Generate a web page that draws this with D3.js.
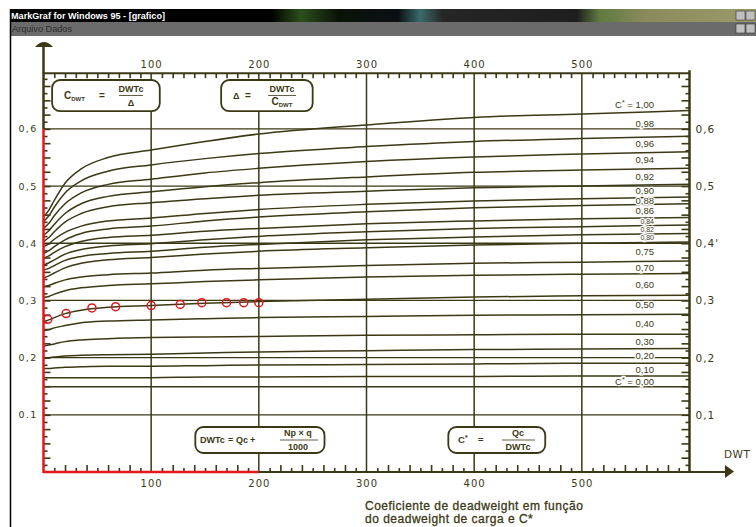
<!DOCTYPE html>
<html>
<head>
<meta charset="utf-8">
<script src="https://cdn.jsdelivr.net/npm/d3@7"></script>
<style>
body { margin: 0; background: #fff; }
svg { display: block; font-family: "Liberation Sans", Arial, sans-serif; }
</style>
</head>
<body>
<script>
var width = 756, height = 527;
var ink = "#3b3915", red = "#e3171c";

// DWT sample points (x axis)
var dwt  = [0, 5, 10, 20, 35, 60, 100, 150, 200, 300, 400, 500, 600];
// C_DWT for each C* curve
var c100 = [.446, .458, .475, .505, .530, .550, .563, .578, .591, .607, .620, .626, .632];
var c098 = [.438, .448, .463, .488, .509, .526, .537, .548, .557, .569, .578, .583, .587];
var c096 = [.426, .435, .448, .469, .488, .503, .512, .523, .531, .543, .551, .556, .560];
var c094 = [.414, .422, .433, .452, .469, .482, .490, .499, .506, .516, .524, .528, .531];
var c092 = [.403, .410, .420, .437, .452, .464, .471, .478, .484, .491, .497, .500, .503];
var c090 = [.394, .399, .407, .419, .430, .439, .444, .452, .459, .468, .474, .478, .481];
var c088 = [.382, .387, .394, .406, .417, .425, .430, .439, .446, .455, .462, .466, .469];
var c086 = [.374, .378, .384, .394, .403, .410, .414, .421, .426, .434, .439, .443, .445];
var c084 = [.362, .366, .371, .381, .389, .395, .399, .406, .412, .420, .426, .429, .432];
var c082 = [.353, .356, .361, .370, .377, .382, .386, .393, .398, .406, .411, .415, .417];
var c080 = [.339, .343, .348, .357, .365, .371, .375, .381, .386, .392, .397, .400, .402];
var c075 = [.324, .326, .330, .336, .341, .345, .348, .353, .356, .361, .365, .367, .369];
var c070 = [.305, .307, .311, .317, .322, .326, .329, .333, .336, .341, .344, .346, .347];
var c060 = [.263, .266, .270, .277, .283, .288, .291, .295, .298, .302, .306, .308, .309];
var c050 = [.247, .249, .252, .256, .261, .264, .266, .268, .270, .272, .274, .275, .276];
var c040 = [.220, .222, .224, .228, .231, .233, .235, .236, .237, .239, .240, .241, .241];
var c030 = [.199, .200, .201, .203, .204, .205, .206, .208, .210, .212, .214, .215, .216];
var c020 = [.181, .181, .182, .183, .184, .185, .185, .186, .187, .188, .189, .190, .190];
var c010 = [.165, .165, .165, .165, .165, .165, .165, .166, .166, .167, .167, .168, .168];
var c000 = [.149, .149, .149, .149, .149, .149, .149, .149, .149, .149, .149, .149, .149];
var curveLabels = ["1,00", "0,98", "0,96", "0,94", "0,92", "0,90", "0,88", "0,86", "0,84", "0,82",
                   "0,80", "0,75", "0,70", "0,60", "0,50", "0,40", "0,30", "0,20", "0,10", "0,00"];
var curves = [c100, c098, c096, c094, c092, c090, c088, c086, c084, c082,
              c080, c075, c070, c060, c050, c040, c030, c020, c010, c000];

// red marked points
var ptDWT = [4, 21, 45, 67, 100, 127, 147, 170, 186, 200];
var ptC   = [.267, .277, .287, .289, .291, .293, .296, .296, .296, .296];

var xTicks = [100, 200, 300, 400, 500];
var yTicks = [0.1, 0.2, 0.3, 0.4, 0.5, 0.6];
var yLeftLabels  = ["0.1", "0,2", "0,3", "0,4", "0,5", "0,6"];
var yRightLabels = ["0,1", "0,2", "0,3", "0,4'", "0,5", "0,6"];

var x = d3.scaleLinear().domain([0, 600]).range([43.5, 689.5]);
var y = d3.scaleLinear().domain([0, 0.7]).range([472, 71.7]);
var yTop = y(0.6975), yBot = y(0);

var svg = d3.select("body").append("svg")
    .attr("width", width).attr("height", height);

// ---- window chrome ----
var grad = svg.append("defs").append("linearGradient").attr("id", "tb");
[[0, "#000"], [0.35, "#000"], [0.39, "#2c4f1c"], [0.44, "#0a1208"], [0.52, "#0b0f14"],
 [0.55, "#3a6a6a"], [0.58, "#262626"], [0.76, "#1e1e1e"], [0.79, "#5f7a40"],
 [0.85, "#8a8a5c"], [1, "#9a9a6a"]].forEach(function(s){
  grad.append("stop").attr("offset", s[0]).attr("stop-color", s[1]);
});
svg.append("rect").attr("x", 10).attr("y", 9).attr("width", 746).attr("height", 13).attr("fill", "url(#tb)");
svg.append("rect").attr("x", 10).attr("y", 22).attr("width", 746).attr("height", 14).attr("fill", "#6b6b6b");
svg.append("text").attr("x", 11).attr("y", 19).attr("fill", "#fff").attr("font-size", 9)
   .attr("font-weight", "bold").attr("textLength", 154).attr("lengthAdjust", "spacingAndGlyphs")
   .text("MarkGraf  for Windows 95 - [grafico]");
svg.append("text").attr("x", 12).attr("y", 32).attr("fill", "#2e2e2e").attr("font-size", 9)
   .attr("textLength", 60).attr("lengthAdjust", "spacingAndGlyphs").text("Arquivo  Dados");
[[736, 11], [746, 11], [736, 24], [746, 24]].forEach(function(b){
  svg.append("rect").attr("x", b[0]).attr("y", b[1]).attr("width", 9).attr("height", 9)
     .attr("fill", "#c0c0c0").attr("stroke", "#333").attr("stroke-width", 0.6);
});
svg.append("line").attr("x1", 10.5).attr("x2", 10.5).attr("y1", 9).attr("y2", height)
   .attr("stroke", "#000").attr("stroke-width", 1.5);

// ---- grid ----
var g = svg.append("g");
g.selectAll(".vg").data(xTicks).enter().append("line")
  .attr("x1", function(d){ return x(d); }).attr("x2", function(d){ return x(d); })
  .attr("y1", yTop).attr("y2", yBot).attr("stroke", ink).attr("stroke-width", 1.5);
g.selectAll(".hg").data(yTicks).enter().append("line")
  .attr("x1", x(0)).attr("x2", x(600))
  .attr("y1", function(d){ return y(d); }).attr("y2", function(d){ return y(d); })
  .attr("stroke", ink).attr("stroke-width", 1.3);

// ---- curves ----
var line = d3.line()
  .x(function(d, i){ return x(dwt[i]); })
  .y(function(d){ return y(d); })
  .curve(d3.curveMonotoneX);
g.selectAll(".curve").data(curves).enter().append("path")
  .attr("d", line).attr("fill", "none").attr("stroke", ink).attr("stroke-width", 1.5);

// ---- curve labels (between each curve and the one above, at the right end) ----
var last = dwt.length - 1;
var labY = curves.map(function(d, i){
  if (i == 0) return y(d[last]) - 6;
  return (y(d[last]) + y(curves[i - 1][last])) / 2;
});
var lab = g.selectAll(".lab").data(curves).enter().append("text")
  .attr("x", 654)
  .attr("y", function(d, i){ return labY[i]; })
  .attr("dy", "0.35em").attr("text-anchor", "end")
  .attr("font-size", function(d, i){
    var gap = Math.min(i > 0 ? labY[i] - labY[i - 1] : 20, i < curves.length - 1 ? labY[i + 1] - labY[i] : 20);
    return gap < 9.5 ? 7 : 9.5;
  })
  .attr("fill", ink).attr("stroke", "#fff").attr("stroke-width", 2.5)
  .attr("paint-order", "stroke");
lab.each(function(d, i){
  var t = d3.select(this);
  if (i == 0 || i == curves.length - 1) {
    t.append("tspan").text("C");
    t.append("tspan").attr("font-size", 7).attr("dy", -3).text("*");
    t.append("tspan").attr("dy", 3).text("  =  " + curveLabels[i]);
  } else {
    t.text(curveLabels[i]);
  }
});

// ---- formula boxes ----
function box(d0, d1, v0, v1) {
  return g.append("rect").attr("x", x(d0)).attr("y", y(v0))
    .attr("width", x(d1) - x(d0)).attr("height", y(v1) - y(v0))
    .attr("rx", 8).attr("fill", "#fff").attr("stroke", ink).attr("stroke-width", 1.8);
}
function txt(px, py, s, size, anchor) {
  return g.append("text").attr("x", px).attr("y", py).attr("font-size", size || 9.5)
    .attr("font-weight", "bold").attr("fill", ink).attr("text-anchor", anchor || "start").text(s);
}
function bar(x1, x2, py) {
  g.append("line").attr("x1", x1).attr("x2", x2).attr("y1", py).attr("y2", py)
   .attr("stroke", ink).attr("stroke-width", 0.8);
}
function cdwt(px, py, anchor) {
  var t = txt(px, py, "", 10, anchor);
  t.append("tspan").text("C");
  t.append("tspan").attr("font-size", 6).attr("dy", 2).text("DWT");
}

box(8, 108, 0.6855, 0.631);
cdwt(64, 99);
txt(99, 99, "=", 10);
txt(131, 92, "DWTc", 9, "middle");
bar(119, 143, 95.5);
txt(131, 106, "\u0394", 9, "middle");

box(165, 250, 0.6855, 0.631);
txt(233, 99, "\u0394", 9);
txt(245, 99, "=", 10);
txt(282, 92, "DWTc", 9, "middle");
bar(268, 296, 95.5);
cdwt(282, 105, "middle");

box(141, 261, 0.0787, 0.0332);
txt(200, 443, "DWTc", 9);
txt(228, 443, "=", 9);
txt(236, 443, "Qc", 9);
txt(250, 443, "+", 9);
txt(298, 436, "Np \u00d7 q", 9, "middle");
bar(280, 318, 440);
txt(298, 450, "1000", 9, "middle");

box(376, 466, 0.0787, 0.0332);
var cs = txt(458, 443, "", 9.5);
cs.append("tspan").text("C");
cs.append("tspan").attr("font-size", 7).attr("dy", -3).text("*");
txt(478, 443, "=", 9.5);
txt(518, 436, "Qc", 9, "middle");
bar(502, 535, 440);
txt(518, 450, "DWTc", 9, "middle");

// ---- minor ticks ----
var odd10 = d3.range(10, 600, 20), even20 = d3.range(20, 600, 20).filter(function(d){ return d % 100; });
function tickAxis(axis, tx, ty) {
  var a = svg.append("g").attr("transform", "translate(" + tx + "," + ty + ")").call(axis);
  a.select(".domain").remove();
  a.selectAll("line").attr("stroke", ink).attr("stroke-width", 1.6);
  a.selectAll("text").remove();
}
tickAxis(d3.axisTop(x).tickValues(odd10.concat(even20)).tickSize(-5), 0, yTop);
tickAxis(d3.axisBottom(x).tickValues(even20).tickSize(-7), 0, yBot);
tickAxis(d3.axisBottom(x).tickValues(odd10).tickSize(-4), 0, yBot);
var yMinor = d3.range(1, 56).map(function(i){ return i * 0.0125; });
var yLong = yMinor.filter(function(d, i){ return i % 2 == 1; });
var yShort = yMinor.filter(function(d, i){ return i % 2 == 0; });
tickAxis(d3.axisLeft(y).tickValues(yLong).tickSize(-7), x(0), 0);
tickAxis(d3.axisLeft(y).tickValues(yShort).tickSize(-4), x(0), 0);
tickAxis(d3.axisRight(y).tickValues(yLong).tickSize(-8), x(600), 0);
tickAxis(d3.axisRight(y).tickValues(yShort).tickSize(-4), x(600), 0);

// ---- axis labels ----
function labelAxis(axis, tx, ty, size, spacing) {
  var a = svg.append("g").attr("transform", "translate(" + tx + "," + ty + ")").call(axis);
  a.select(".domain").remove();
  a.selectAll("line").remove();
  a.selectAll("text").attr("fill", ink).attr("font-size", size)
    .attr("font-family", "'DejaVu Sans', sans-serif").attr("letter-spacing", spacing);
}
labelAxis(d3.axisTop(x).tickValues(xTicks).tickSize(0).tickPadding(5), 0, yTop, 10, 1);
labelAxis(d3.axisBottom(x).tickValues(xTicks).tickSize(0).tickPadding(8), 0, yBot, 10, 1);
labelAxis(d3.axisLeft(y).tickValues(yTicks).tickSize(0).tickPadding(6)
  .tickFormat(function(d, i){ return yLeftLabels[i]; }), x(0), 0, 9.5, 1.3);
labelAxis(d3.axisRight(y).tickValues(yTicks).tickSize(0).tickPadding(6)
  .tickFormat(function(d, i){ return yRightLabels[i]; }), x(600), 0, 10.5, 1);

// ---- frame ----
svg.append("line").attr("x1", x(0)).attr("x2", x(600)).attr("y1", yTop).attr("y2", yTop)
   .attr("stroke", ink).attr("stroke-width", 2);
svg.append("line").attr("x1", x(600)).attr("x2", x(600)).attr("y1", yTop - 3).attr("y2", yBot)
   .attr("stroke", ink).attr("stroke-width", 2.5);
svg.append("line").attr("x1", x(0)).attr("x2", 726).attr("y1", yBot).attr("y2", yBot)
   .attr("stroke", ink).attr("stroke-width", 2);
svg.append("path").attr("d", "M725,465L734,471.5L725,478Z").attr("fill", ink);
svg.append("text").attr("x", 724).attr("y", 458).attr("font-size", 10.5).attr("fill", ink)
   .attr("font-family", "'DejaVu Sans', sans-serif").attr("letter-spacing", 0.5).text("DWT");
svg.append("line").attr("x1", x(0)).attr("x2", x(0)).attr("y1", 44).attr("y2", y(0.6))
   .attr("stroke", ink).attr("stroke-width", 2.5);
svg.append("path").attr("d", "M35,47Q44,37 53,47Z").attr("fill", ink);

// red overlay along the axes
svg.append("line").attr("x1", x(0)).attr("x2", x(0)).attr("y1", y(0.6)).attr("y2", yBot + 1)
   .attr("stroke", red).attr("stroke-width", 2.5);
svg.append("line").attr("x1", x(0)).attr("x2", x(200)).attr("y1", yBot).attr("y2", yBot)
   .attr("stroke", red).attr("stroke-width", 2.5);

svg.selectAll(".pt").data(ptDWT).enter().append("circle")
  .attr("cx", function(d){ return x(d); })
  .attr("cy", function(d, i){ return y(ptC[i]); })
  .attr("r", 4).attr("fill", "none").attr("stroke", red).attr("stroke-width", 1.5);

// ---- caption ----
var cap = svg.append("text").attr("x", 365).attr("y", 510).attr("font-size", 12)
   .attr("fill", ink).attr("stroke", ink).attr("stroke-width", 0.3).attr("letter-spacing", 0.5);
cap.append("tspan").text("Coeficiente de deadweight em função");
cap.append("tspan").attr("x", 365).attr("dy", 13).text("do deadweight de carga e C*");
</script>
</body>
</html>
